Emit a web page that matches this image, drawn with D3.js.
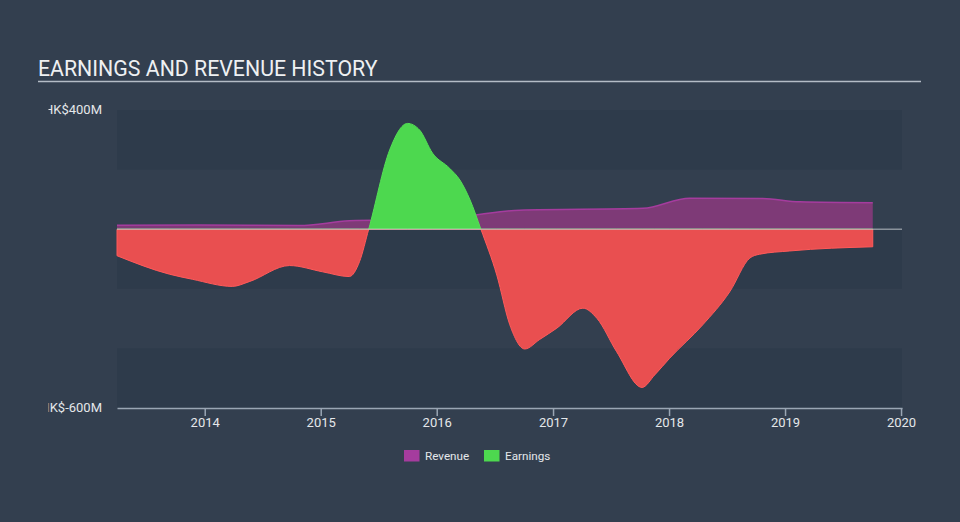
<!DOCTYPE html>
<html><head><meta charset="utf-8">
<script src="https://cdn.jsdelivr.net/npm/d3@7"></script>
<style>
html,body{margin:0;padding:0;background:#333f4f;}
svg{display:block;font-family:Roboto,"Open Sans",sans-serif;}
</style></head>
<body>
<svg id="chart" width="960" height="522"></svg>
<script>
const title = "EARNINGS AND REVENUE HISTORY";
const yTickValues = [400, -600];
const yTickLabels = ["HK$400M", "HK$-600M"];
const xTickYears = ["2014","2015","2016","2017","2018","2019","2020"];
const seriesNames = ["Revenue", "Earnings"];

const revenueDates = ["2013-03-31","2013-12-15","2014-10-26","2015-04-01","2015-11-08","2016-04-15","2016-05-19","2016-09-18","2017-10-11","2018-03-07","2018-10-23","2019-02-16","2019-10-04"];
const revenueValues = [13,14,12,28,33,45,50,64,70,104,103,92,89];

const earningsDates = ["2013-03-31","2013-09-12","2013-11-23","2014-03-29","2014-05-21","2014-09-25","2015-01-07","2015-04-01","2015-05-03","2015-06-01","2015-08-06","2015-10-01","2015-11-08","2015-12-19","2016-02-11","2016-03-14","2016-04-15","2016-05-19","2016-07-08","2016-08-18","2016-10-04","2016-11-20","2017-01-13","2017-04-05","2017-05-19","2017-07-20","2017-10-08","2017-11-17","2018-01-03","2018-04-17","2018-07-11","2018-09-12","2018-10-13","2019-01-16","2019-10-04"];
const earningsValues = [-89,-151,-168,-192,-176,-122,-143,-159,-109,0,266,355,333,255,204,165,98,0,-154,-321,-402,-370,-332,-265,-299,-411,-531,-489,-433,-321,-210,-97,-84,-73,-59];

(function () {
const svg = d3.select("#chart");
const W = 960, H = 522;
const pL = 117, pR = 902, pT = 110, pB = 408;
const parse = d3.timeParse("%Y-%m-%d");

const x = d3.scaleTime().domain([parse("2013-03-31"), parse("2020-01-04")]).range([pL, pR]);
const y = d3.scaleLinear().domain([-600, 400]).range([pB, pT]);

// bands
const bandEdges = [400, 200, 0, -200, -400, -600];
for (let i = 0; i < bandEdges.length - 1; i += 2) {
  svg.append("rect").attr("x", pL).attr("width", pR - pL)
    .attr("y", y(bandEdges[i])).attr("height", y(bandEdges[i+1]) - y(bandEdges[i]))
    .attr("fill", "#2e3b4b");
}

// title
svg.append("text").attr("x", 38).attr("y", 75.5).attr("fill", "#eef0f2")
  .attr("font-size", 21.3).text(title);
svg.append("line").attr("x1", 38).attr("x2", 921).attr("y1", 81.5).attr("y2", 81.5)
  .attr("stroke", "#b4bcc6").attr("stroke-width", 1.5);

// y labels (clipped at left)
svg.append("clipPath").attr("id", "yclip").append("rect")
  .attr("x", 48.5).attr("y", 90).attr("width", 70).attr("height", 340);
const yg = svg.append("g").attr("clip-path", "url(#yclip)");
yTickValues.forEach((v, i) => {
  yg.append("text").attr("x", 102).attr("y", y(v)).attr("dy", "0.33em")
    .attr("text-anchor", "end").attr("font-size", 13).attr("fill", "#e4e7ea")
    .text(yTickLabels[i]);
});

const rev = revenueDates.map((d, i) => ({date: parse(d), v: revenueValues[i]}));
const earn = earningsDates.map((d, i) => ({date: parse(d), v: earningsValues[i]}));

const revArea = d3.area().x(d => x(d.date)).y0(y(0)).y1(d => y(d.v)).curve(d3.curveMonotoneX);
const revLine = d3.line().x(d => x(d.date)).y(d => y(d.v)).curve(d3.curveMonotoneX);
svg.append("path").datum(rev).attr("d", revArea).attr("fill", "#7e3a77");
svg.append("path").datum(rev).attr("d", revLine).attr("fill", "none")
  .attr("stroke", "#a53c9e").attr("stroke-width", 1.5);

// earnings clipped by sign
svg.append("clipPath").attr("id", "pos").append("rect")
  .attr("x", 0).attr("y", 0).attr("width", W).attr("height", y(0));
svg.append("clipPath").attr("id", "neg").append("rect")
  .attr("x", 0).attr("y", y(0)).attr("width", W).attr("height", H - y(0));
const earnArea = d3.area().x(d => x(d.date)).y0(y(0)).y1(d => y(d.v)).curve(d3.curveMonotoneX);
svg.append("path").datum(earn).attr("d", earnArea).attr("fill", "#4dd84f")
  .attr("stroke", "#55e055").attr("stroke-width", 1).attr("clip-path", "url(#pos)");
svg.append("path").datum(earn).attr("d", earnArea).attr("fill", "#e94f50")
  .attr("stroke", "#ff5a5a").attr("stroke-width", 1).attr("clip-path", "url(#neg)");

// zero line
svg.append("line").attr("x1", pL).attr("x2", pR).attr("y1", y(0)).attr("y2", y(0))
  .attr("stroke", "#d6dadf").attr("stroke-opacity", 0.55).attr("stroke-width", 1.5);

// x axis
const xAxis = d3.axisBottom(x)
  .tickValues(xTickYears.map(s => parse(s + "-01-01")))
  .tickFormat(d3.timeFormat("%Y")).tickSize(8).tickSizeOuter(0);
const xg = svg.append("g").attr("transform", `translate(0,${pB})`).call(xAxis);
xg.select(".domain").attr("stroke", "#9aa6b4").attr("stroke-width", 1.5);
xg.selectAll(".tick line").attr("stroke", "#9aa6b4").attr("stroke-width", 1.5);
xg.selectAll(".tick text").attr("fill", "#e4e7ea").attr("font-size", 13)
  .attr("font-family", "Roboto, sans-serif").attr("dy", "0").attr("y", 18.5);

// legend
const legendColors = ["#a53c9e", "#4dd84f"];
const legendX = [404, 484];
seriesNames.forEach((n, i) => {
  svg.append("rect").attr("x", legendX[i]).attr("y", 450).attr("width", 15.5).attr("height", 11.5)
    .attr("fill", legendColors[i]);
  svg.append("text").attr("x", legendX[i] + 21).attr("y", 460)
    .attr("font-size", 11.7).attr("fill", "#e4e7ea").text(n);
});
})();
</script>
</body></html>
